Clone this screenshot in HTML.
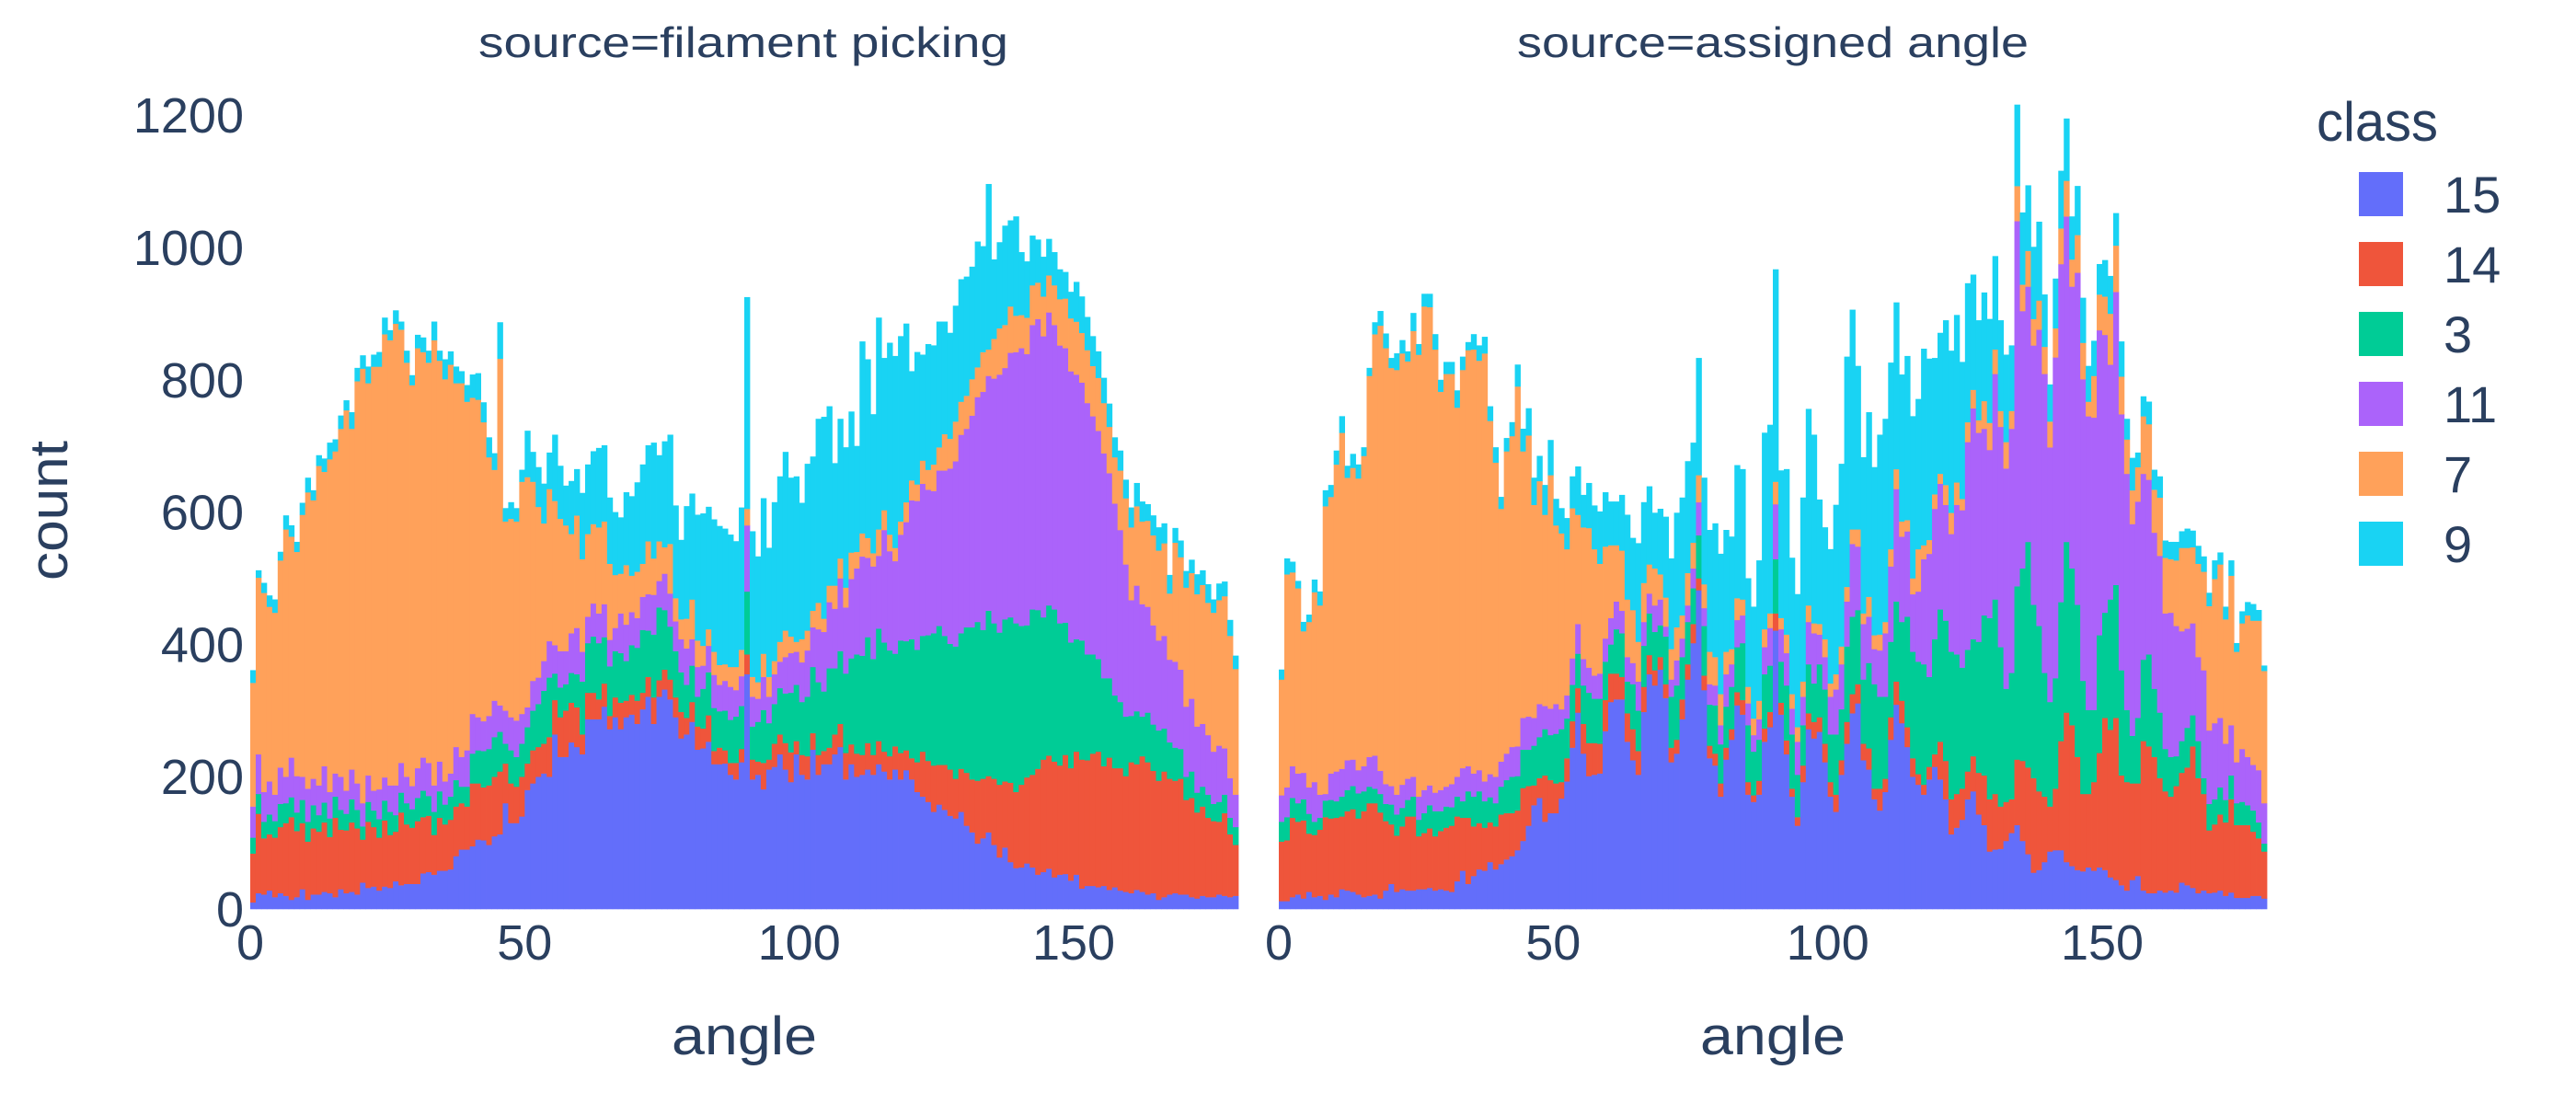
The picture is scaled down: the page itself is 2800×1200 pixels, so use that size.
<!DOCTYPE html>
<html>
<head>
<meta charset="utf-8">
<style>
  html, body { margin: 0; padding: 0; background: #ffffff; }
  body { width: 2800px; height: 1200px; overflow: hidden; }
  svg { display: block; font-family: "Liberation Sans", "DejaVu Sans", sans-serif; }
  text { fill: #2a3f5f; }
</style>
</head>
<body>
<svg id="chart" width="2800" height="1200" viewBox="0 0 2800 1200" xmlns="http://www.w3.org/2000/svg">
  <rect x="0" y="0" width="2800" height="1200" fill="#ffffff"/>
  <g id="bars"></g>
  <g id="axes"></g>
  <text x="808" y="62" font-size="46" text-anchor="middle" textLength="576" lengthAdjust="spacingAndGlyphs">source=filament picking</text>
  <text x="1927" y="62" font-size="46" text-anchor="middle" textLength="556" lengthAdjust="spacingAndGlyphs">source=assigned angle</text>
  <text x="809" y="1146" font-size="58" text-anchor="middle" textLength="158" lengthAdjust="spacingAndGlyphs">angle</text>
  <text x="1927" y="1146" font-size="58" text-anchor="middle" textLength="158" lengthAdjust="spacingAndGlyphs">angle</text>
  <text x="0" y="0" font-size="58" text-anchor="middle" transform="translate(73,555) rotate(-90)" textLength="152" lengthAdjust="spacingAndGlyphs">count</text>
  <g id="legend">
    <text x="2518" y="153" font-size="60" textLength="132" lengthAdjust="spacingAndGlyphs">class</text>
  </g>
</svg>
<script>
// ---- data ----
const classes = ["15", "14", "3", "11", "7", "9"];
const colors = ["#636efa", "#EF553B", "#00cc96", "#ab63fa", "#FFA15A", "#19d3f3"];
const panels = ["filament picking", "assigned angle"];
const xTicks = [0, 50, 100, 150];
const yTicks = [0, 200, 400, 600, 800, 1000, 1200];
const binStart = 0;
const binSize = 1;

// panel 1: source=filament picking (counts per 1-degree bin)
const fp15 = [10,24,22,28,18,24,20,14,18,30,14,22,22,26,24,18,30,24,26,22,40,32,34,28,34,32,42,36,38,38,38,54,56,52,58,58,60,80,90,90,95,105,104,97,110,113,160,130,130,140,180,190,200,205,200,264,230,230,252,245,234,287,287,287,306,272,290,272,290,294,280,302,321,280,321,332,317,290,258,264,283,241,243,253,219,219,220,203,196,222,355,196,203,181,211,215,234,211,192,234,203,196,241,203,219,219,234,245,196,219,200,203,211,203,219,208,196,211,196,210,196,177,170,162,147,158,150,141,137,147,126,116,99,107,116,97,78,93,71,62,63,69,63,52,56,61,48,52,53,43,52,31,35,35,33,35,29,33,28,26,24,29,26,22,24,14,18,22,24,22,22,18,16,20,18,18,22,20,18,20];
const fp14 = [74,120,85,85,90,100,110,125,100,100,88,100,95,105,85,120,90,95,105,100,65,100,90,80,100,80,75,110,90,85,95,85,85,60,80,70,75,75,70,65,95,85,80,90,90,95,60,60,55,60,40,50,45,45,60,52,60,70,60,60,30,40,40,30,35,20,30,40,25,30,35,25,30,40,25,30,30,30,40,25,30,35,30,40,20,25,20,18,25,20,30,30,20,40,15,35,30,40,45,20,30,35,25,30,20,25,30,35,40,30,35,30,40,30,35,30,35,35,40,30,32,45,68,62,70,60,68,70,60,65,80,80,95,90,85,100,110,100,120,115,125,130,140,160,170,171,175,165,180,170,186,195,190,200,205,181,200,180,185,175,198,190,205,200,185,180,190,175,170,175,143,150,130,135,120,115,110,125,95,77];
const fp3 = [24,30,25,30,25,35,30,30,28,35,30,35,25,30,28,32,30,25,35,28,20,30,25,28,30,35,25,30,32,28,35,40,30,35,40,30,35,40,25,30,45,50,55,55,60,60,30,50,45,50,55,60,65,80,90,40,45,40,45,50,80,75,85,85,70,75,70,75,60,75,80,95,70,95,110,90,80,70,60,50,55,45,60,65,65,55,60,65,70,65,95,50,60,80,55,60,70,75,90,85,80,90,100,110,90,120,100,110,120,130,150,150,160,145,170,165,160,140,170,165,180,170,175,190,200,210,195,190,200,205,220,230,240,225,250,235,230,245,250,255,240,230,250,240,215,227,230,215,200,190,170,180,160,150,140,133,120,110,100,90,70,80,60,75,70,76,65,55,50,45,35,40,30,30,35,26,30,28,25,27];
const fp11 = [47,60,45,50,40,55,40,60,55,35,50,40,45,55,40,35,50,35,45,40,35,40,30,45,35,40,45,45,40,35,45,50,50,40,45,35,35,50,45,55,60,50,45,50,55,40,50,50,55,45,30,45,40,45,55,43,55,50,60,70,45,40,50,45,50,40,35,60,55,50,45,50,55,60,40,55,50,45,50,55,40,45,35,40,50,40,45,50,40,45,100,45,35,50,40,45,40,55,60,50,60,70,60,80,90,100,90,110,100,120,130,150,120,140,110,170,150,140,160,180,210,225,230,220,215,235,250,265,280,300,300,320,340,360,355,370,390,380,400,410,420,410,430,440,425,443,430,420,415,410,400,390,380,360,345,340,310,290,260,230,175,190,170,160,150,136,140,125,130,120,106,110,100,95,90,79,85,70,60,49];
const fp7 = [187,267,301,264,275,313,374,334,339,396,448,421,483,445,503,487,526,575,515,608,657,593,641,639,670,673,698,655,626,606,635,613,605,673,606,608,618,550,565,527,478,480,452,391,349,524,286,300,301,351,348,301,258,208,230,218,200,190,150,170,140,125,120,130,125,115,80,60,90,55,70,50,80,55,60,40,75,35,30,45,60,40,30,25,35,30,25,30,35,40,25,30,25,35,30,20,30,40,25,15,35,30,25,40,20,25,35,30,30,40,25,35,30,20,40,30,25,20,20,30,30,25,35,30,40,35,55,45,60,50,50,55,45,60,40,60,70,65,70,55,50,55,60,55,60,56,60,70,75,80,80,75,80,76,80,76,70,70,90,100,110,120,125,130,136,136,140,100,180,170,180,190,200,210,200,210,220,230,215,190];
const fp9 = [19,11,15,17,20,13,21,17,15,18,22,15,16,20,25,18,20,15,25,20,20,25,18,22,25,15,20,12,18,15,20,22,18,28,15,30,20,25,18,25,35,40,30,30,25,55,20,25,20,18,70,45,60,60,55,100,80,60,80,70,100,105,110,120,115,100,95,85,110,120,135,150,145,175,130,160,165,140,120,170,160,190,200,185,200,210,205,200,190,215,320,220,190,235,195,240,250,270,240,250,206,252,233,278,305,271,185,211,212,213,160,290,270,210,320,230,290,290,280,270,165,200,160,190,180,190,170,160,175,185,180,170,190,160,250,120,130,150,130,150,95,85,75,65,60,55,50,45,40,40,60,55,50,45,40,38,35,30,30,28,30,35,30,25,30,35,30,28,22,25,25,20,30,22,28,20,25,22,24,20];

// panel 2: source=assigned angle
const aa15 = [12,12,18,22,16,26,18,20,14,22,18,30,28,26,22,18,20,22,16,28,38,26,30,28,28,30,30,32,28,30,28,26,42,58,38,50,60,58,71,60,68,75,80,89,103,126,157,168,132,145,145,167,193,244,297,235,201,203,205,269,313,317,317,253,225,203,298,355,338,362,319,222,235,287,347,402,482,331,228,217,170,226,256,308,294,173,162,173,253,275,421,294,234,170,126,192,272,258,268,222,170,147,203,250,296,311,225,211,166,149,177,256,309,281,245,200,188,173,196,215,196,166,113,123,135,166,178,143,127,87,90,91,103,115,127,103,83,55,59,71,87,89,89,71,65,59,57,63,58,63,59,48,44,36,28,44,50,28,24,24,28,25,28,25,40,36,32,24,28,24,25,28,20,25,17,17,17,20,20,16];
const aa14 = [90,92,120,110,118,88,94,100,125,115,120,110,120,125,115,130,140,138,130,105,90,85,95,112,112,80,85,90,82,88,95,100,98,80,100,75,70,65,60,65,75,70,65,60,80,60,30,30,70,50,45,25,35,40,37,45,50,48,45,47,43,39,34,43,47,36,38,29,23,19,21,22,21,30,23,29,18,22,19,18,20,18,16,20,22,19,10,21,20,23,26,18,21,12,13,25,24,25,22,28,22,26,22,33,29,29,25,32,16,33,20,34,35,34,30,28,16,15,19,19,57,58,53,51,47,42,53,63,75,79,84,64,59,51,99,121,131,143,119,99,68,93,165,226,213,171,117,111,134,173,230,223,245,166,164,146,140,226,222,206,170,153,142,161,166,178,214,174,146,95,103,115,111,141,110,110,110,97,87,71];
const aa3 = [30,35,30,28,32,30,20,18,25,28,25,30,32,35,38,30,25,22,28,26,30,32,28,25,30,25,30,35,38,30,32,28,30,25,40,45,48,40,38,35,42,50,55,52,58,55,60,62,70,68,75,80,60,55,52,58,76,67,68,58,44,67,66,48,68,61,62,63,58,48,72,77,82,64,64,54,65,75,62,73,59,62,64,68,86,86,66,62,82,70,82,62,83,82,64,61,74,58,80,82,72,91,77,114,117,112,97,129,158,139,124,114,121,119,167,161,170,182,136,174,200,212,223,211,183,184,177,198,242,274,294,241,171,191,262,291,341,262,250,187,158,167,210,258,237,230,171,127,109,178,159,197,201,159,109,72,99,123,139,103,99,64,60,45,48,60,47,56,24,40,38,41,34,36,33,35,30,32,24,12];
const aa11 = [40,45,48,45,40,40,60,35,10,40,45,42,45,40,35,38,45,50,35,30,28,30,35,32,30,35,35,30,28,32,30,35,30,50,38,35,32,30,35,40,38,40,45,45,48,50,42,50,35,40,45,30,35,40,45,40,38,35,38,35,40,42,34,37,32,44,36,30,40,39,15,26,38,28,25,30,50,27,31,30,29,49,34,41,42,33,25,31,41,57,83,49,49,39,50,43,64,76,45,49,57,68,68,68,110,96,84,70,53,70,96,114,170,129,129,87,106,159,186,197,190,175,178,226,238,314,349,316,282,254,341,333,333,369,552,389,386,392,448,452,385,485,511,492,426,502,456,444,442,461,420,355,443,387,357,320,327,281,264,236,237,205,218,197,166,150,139,127,163,111,115,105,85,76,62,80,73,69,79,61];
const aa7 = [175,322,293,280,214,250,287,286,435,418,464,508,427,441,441,469,576,637,673,659,632,642,652,631,674,668,731,723,670,602,624,620,558,602,629,641,619,647,534,475,382,457,470,544,403,425,322,337,289,353,270,266,221,227,165,199,211,191,166,139,110,85,91,87,80,60,59,44,56,38,44,46,50,35,49,39,41,36,49,43,47,34,23,33,24,25,25,28,27,22,34,17,28,22,22,23,25,15,16,27,20,23,27,22,22,26,16,30,21,24,17,26,30,23,17,24,64,21,21,22,15,30,32,34,17,30,28,19,42,41,37,24,40,27,53,40,54,40,44,41,39,44,54,54,41,57,55,22,63,54,58,77,70,57,52,51,52,87,84,65,88,84,81,99,126,122,115,141,149,188,218,232,188,226,167,190,214,218,226,200];
const aa9 = [15,24,16,11,14,11,19,21,24,18,21,25,18,21,21,13,12,18,22,22,15,25,20,15,27,16,19,20,23,18,18,18,26,20,12,23,23,25,22,23,18,20,21,33,34,41,41,38,45,53,40,38,47,48,73,49,68,66,79,82,66,66,84,128,109,149,122,118,84,99,122,137,173,178,169,151,177,161,184,202,212,184,170,201,197,164,169,212,297,285,321,223,250,206,201,278,297,285,188,169,203,256,276,348,332,247,236,279,254,302,307,282,252,222,248,245,227,297,274,206,213,249,245,253,207,210,174,151,164,157,141,137,132,99,123,109,99,109,119,79,56,75,87,94,65,74,68,54,53,46,55,57,49,53,31,49,22,30,34,30,32,26,26,28,25,29,25,27,23,20,28,18,19,23,13,18,20,25,16,8];

const panelSeries = [
  [fp15, fp14, fp3, fp11, fp7, fp9],
  [aa15, aa14, aa3, aa11, aa7, aa9]
];

// ---- layout / scales ----
const NS = "http://www.w3.org/2000/svg";
const panelLeft = [272, 1390];
const panelWidth = 1074;
const xMin = 0, xMax = 180;
const yBase = 988;
const yPerUnit = 0.719;

function xScale(p, v) { return panelLeft[p] + (v - xMin) / (xMax - xMin) * panelWidth; }
function yScale(v) { return yBase - v * yPerUnit; }

const barsG = document.getElementById("bars");
const axesG = document.getElementById("axes");
const legendG = document.getElementById("legend");

for (let p = 0; p < panels.length; p++) {
  const series = panelSeries[p];
  const nBins = series[0].length;
  for (let b = 0; b < nBins; b++) {
    let cum = 0;
    const x0 = xScale(p, binStart + b * binSize);
    const x1 = xScale(p, binStart + (b + 1) * binSize);
    for (let s = 0; s < series.length; s++) {
      const v = series[s][b];
      const yTop = yScale(cum + v);
      const yBot = yScale(cum);
      cum += v;
      const r = document.createElementNS(NS, "rect");
      r.setAttribute("x", x0.toFixed(2));
      r.setAttribute("y", yTop.toFixed(2));
      r.setAttribute("width", (x1 - x0 + 0.4).toFixed(2));
      r.setAttribute("height", Math.max(0, yBot - yTop + 0.3).toFixed(2));
      r.setAttribute("fill", colors[s]);
      
      
      barsG.appendChild(r);
    }
  }
  // x ticks
  for (const t of xTicks) {
    const tx = document.createElementNS(NS, "text");
    tx.setAttribute("x", xScale(p, t).toFixed(1));
    tx.setAttribute("y", "1043");
    tx.setAttribute("font-size", "54");
    tx.setAttribute("text-anchor", "middle");
    tx.textContent = String(t);
    
    
    axesG.appendChild(tx);
  }
}

// y ticks (left panel only)
for (const t of yTicks) {
  const ty = document.createElementNS(NS, "text");
  ty.setAttribute("x", "265");
  ty.setAttribute("y", (yScale(t) + 19).toFixed(1));
  ty.setAttribute("font-size", "54");
  ty.setAttribute("text-anchor", "end");
  ty.textContent = String(t);
  
  
  axesG.appendChild(ty);
}

// legend
const legendTop = 187, legendStep = 76;
for (let i = 0; i < classes.length; i++) {
  const g = document.createElementNS(NS, "g");
  
  
  const sw = document.createElementNS(NS, "rect");
  sw.setAttribute("x", "2564");
  sw.setAttribute("y", String(legendTop + i * legendStep));
  sw.setAttribute("width", "48");
  sw.setAttribute("height", "48");
  sw.setAttribute("fill", colors[i]);
  
  
  g.appendChild(sw);
  const lt = document.createElementNS(NS, "text");
  lt.setAttribute("x", "2656");
  lt.setAttribute("y", String(legendTop + i * legendStep + 44));
  lt.setAttribute("font-size", "56");
  lt.textContent = classes[i];
  
  
  g.appendChild(lt);
  legendG.appendChild(g);
}
</script>
</body>
</html>
